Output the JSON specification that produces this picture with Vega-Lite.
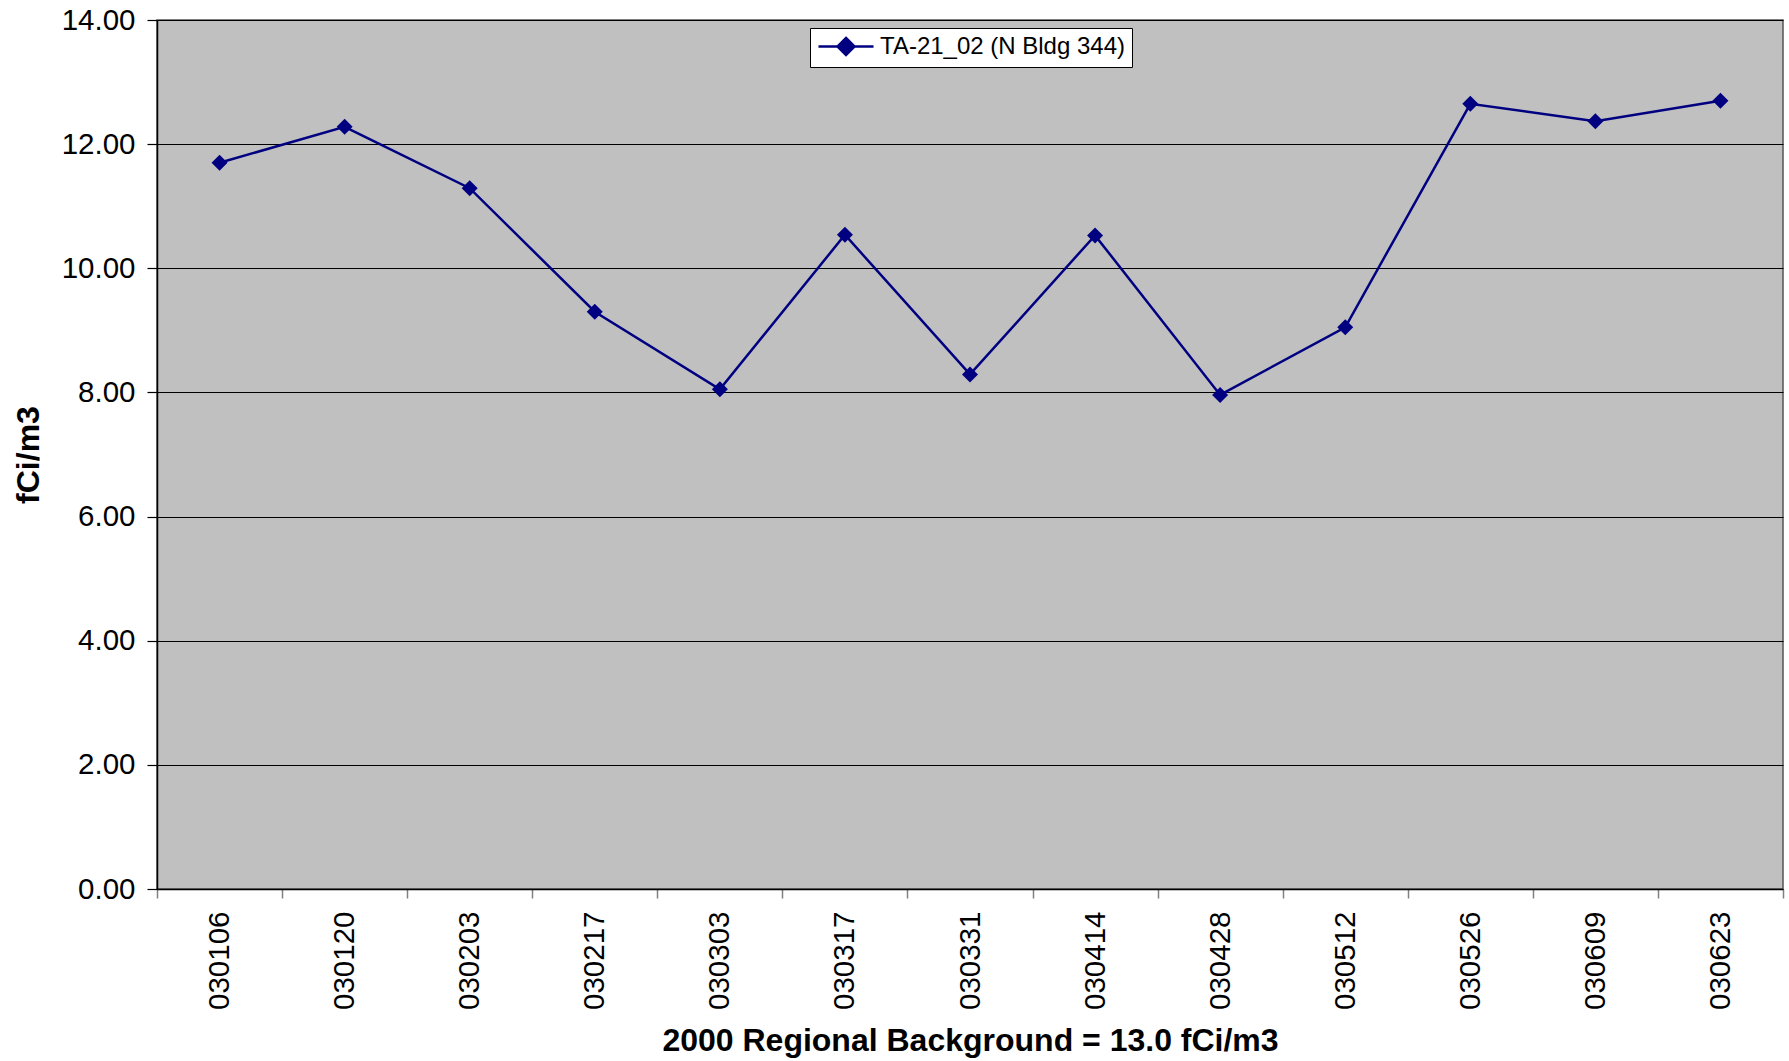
{
  "$schema": "https://vega.github.io/schema/vega-lite/v6.json",
  "autosize": "none",
  "width": 1626,
  "height": 869,
  "padding": {"left": 157, "top": 20, "right": 6, "bottom": 172},
  "background": "white",
  "config": {
    "font": "Liberation Sans",
    "view": {"fill": "#C0C0C0", "stroke": "#555555", "strokeWidth": 1.5}
  },
  "data": {
    "values": [
      {"date": "030106", "value": 11.70},
      {"date": "030120", "value": 12.28},
      {"date": "030203", "value": 11.29},
      {"date": "030217", "value": 9.30},
      {"date": "030303", "value": 8.05},
      {"date": "030317", "value": 10.54},
      {"date": "030331", "value": 8.29},
      {"date": "030414", "value": 10.53},
      {"date": "030428", "value": 7.96},
      {"date": "030512", "value": 9.05},
      {"date": "030526", "value": 12.65},
      {"date": "030609", "value": 12.37},
      {"date": "030623", "value": 12.70}
    ]
  },
  "encoding": {
    "x": {
      "field": "date",
      "type": "ordinal",
      "sort": null,
      "scale": {"type": "band", "paddingInner": 0, "paddingOuter": 0},
      "axis": {
        "title": "2000 Regional Background = 13.0 fCi/m3",
        "titleFontSize": 32,
        "titleFontWeight": "bold",
        "titleColor": "black",
        "titlePadding": 16.5,
        "labelAngle": -90,
        "labelFontSize": 29.5,
        "labelColor": "black",
        "labelPadding": 13,
        "tickSize": 9,
        "tickColor": "#808080",
        "tickWidth": 1.5,
        "tickBand": "extent",
        "domainColor": "black",
        "domainWidth": 1.5,
        "grid": false
      }
    },
    "y": {
      "field": "value",
      "type": "quantitative",
      "scale": {"domain": [0, 14], "nice": false, "zero": true},
      "axis": {
        "title": "fCi/m3",
        "titleFontSize": 32,
        "titleFontWeight": "bold",
        "titleColor": "black",
        "titlePadding": 16,
        "values": [0, 2, 4, 6, 8, 10, 12, 14],
        "format": ".2f",
        "labelFontSize": 29.5,
        "labelColor": "black",
        "labelPadding": 12,
        "tickSize": 10,
        "tickColor": "black",
        "tickWidth": 1.2,
        "domainColor": "black",
        "domainWidth": 1.5,
        "grid": true,
        "gridColor": "black",
        "gridWidth": 1,
        "gridOpacity": 1
      }
    }
  },
  "layer": [
    {
      "mark": {"type": "line", "strokeWidth": 2.5},
      "encoding": {
        "stroke": {
          "datum": "TA-21_02 (N Bldg 344)",
          "type": "nominal",
          "scale": {"range": ["#000080"]},
          "legend": {
            "title": null,
            "orient": "none",
            "legendX": 653,
            "legendY": 8,
            "fillColor": "white",
            "strokeColor": "black",
            "padding": 6.5,
            "labelFontSize": 24,
            "labelColor": "black",
            "labelFont": "Liberation Sans",
            "labelLimit": 600,
            "labelOffset": 22,
            "symbolOffset": 17.5,
            "symbolSize": 400,
            "symbolType": "M-2.75,0L2.75,0M0,-0.85L0.85,0L0,0.85L-0.85,0Z",
            "symbolStrokeWidth": 2.5,
            "symbolFillColor": "#000080",
            "symbolStrokeColor": "#000080",
            "symbolOpacity": 1
          }
        }
      }
    },
    {
      "mark": {"type": "point", "shape": "diamond", "filled": true, "size": 256, "color": "#000080", "opacity": 1}
    }
  ]
}
